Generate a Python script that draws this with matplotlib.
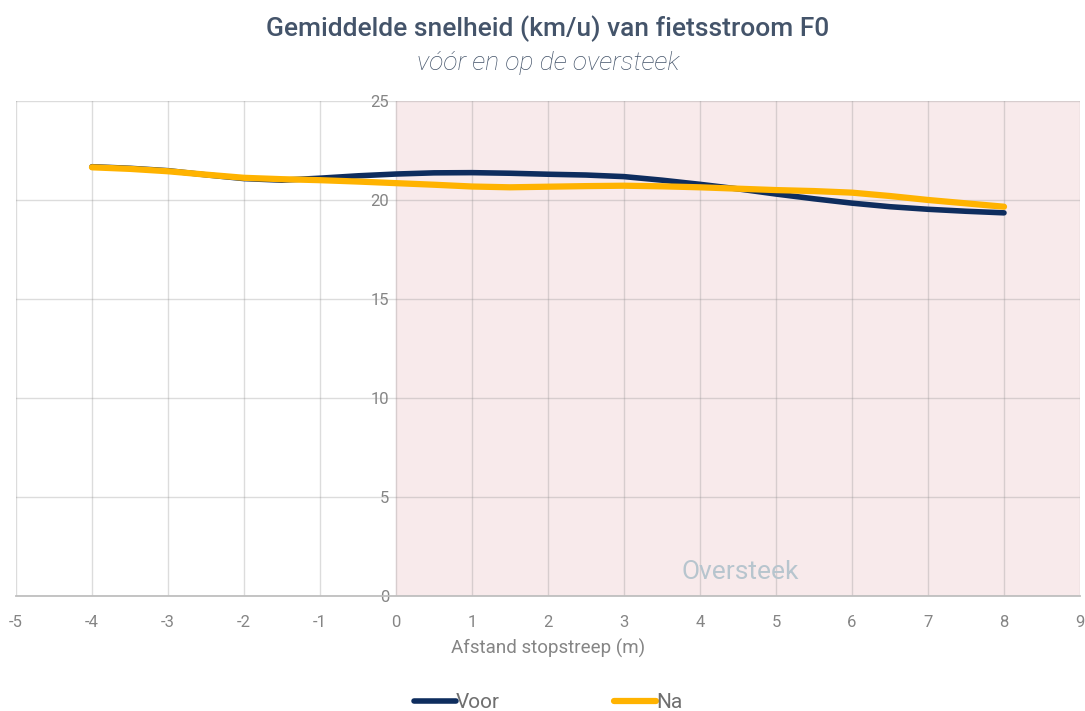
import numpy as np
import matplotlib.pyplot as plt

plt.rcParams['font.family'] = ['Roboto', 'DejaVu Sans']

afstand = [-4, -3.5, -3, -2.5, -2, -1.5, -1, -0.5, 0, 0.5, 1, 1.5, 2,
           2.5, 3, 3.5, 4, 4.5, 5, 5.5, 6, 6.5, 7, 7.5, 8]
voor = [21.68, 21.6, 21.48, 21.27, 21.08, 21.0, 21.1, 21.22, 21.31, 21.37,
        21.38, 21.35, 21.3, 21.26, 21.18, 21.0, 20.79, 20.56, 20.3, 20.06,
        19.84, 19.66, 19.53, 19.43, 19.35]
na = [21.65, 21.57, 21.45, 21.28, 21.12, 21.05, 21.0, 20.93, 20.85, 20.77,
      20.68, 20.64, 20.67, 20.7, 20.72, 20.69, 20.64, 20.57, 20.5, 20.45,
      20.37, 20.2, 20.0, 19.83, 19.66]

x_ticks = np.arange(-5, 10, 1)
y_ticks = np.arange(0, 26, 5)

title_col = '#44546a'
tick_col = '#858585'

fig = plt.figure(figsize=(10.85, 7.11), dpi=100)
ax = fig.add_axes([0.0147, 0.1617, 0.9807, 0.6963])

ax.axvspan(0, 9, color='#f8eaeb', zorder=0)
ax.plot(afstand, voor, color='#0e2d5e', lw=4, solid_capstyle='round',
        label='Voor', zorder=3)
ax.plot(afstand, na, color='#ffb300', lw=4.5, solid_capstyle='round',
        label='Na', zorder=4)

ax.set_xlim(-5, 9)
ax.set_ylim(0, 25)
ax.set_xticks(x_ticks)
ax.set_xticklabels([str(i) for i in x_ticks])
ax.set_yticks(y_ticks)
ax.grid(color='#8c8c8c', alpha=0.3, lw=1, zorder=1)
ax.set_axisbelow(True)

for s in ['top', 'right', 'left']:
    ax.spines[s].set_visible(False)
ax.spines['bottom'].set_color('#bfbfbf')
ax.spines['bottom'].set_linewidth(1.3)
ax.spines['left'].set_position(('data', 0))

ax.tick_params(axis='both', length=0, colors=tick_col, labelsize=12)
ax.tick_params(axis='x', pad=14)
ax.tick_params(axis='y', pad=5)

ax.text(4.53, 1.2, 'Oversteek', color='#b7c5ce', fontsize=19,
        ha='center', va='center')

ax.set_xlabel('Afstand stopstreep (m)', color=tick_col, fontsize=13.5,
              labelpad=6)

fig.text(0.505, 0.960, 'Gemiddelde snelheid (km/u) van fietsstroom F0',
         ha='center', va='center', color=title_col, fontsize=19,
         fontweight='medium')
fig.text(0.505, 0.912, 'vóór en op de oversteek', ha='center', va='center',
         color=title_col, fontsize=19, style='italic', fontweight='light')

leg = fig.legend(loc='center', bbox_to_anchor=(0.505, 0.012), ncol=2,
                 frameon=False, handlelength=2.0, handletextpad=0.0,
                 columnspacing=5.5, fontsize=15)
for t in leg.get_texts():
    t.set_color('#6f6f6f')

fig.savefig('out.png', dpi=100)
